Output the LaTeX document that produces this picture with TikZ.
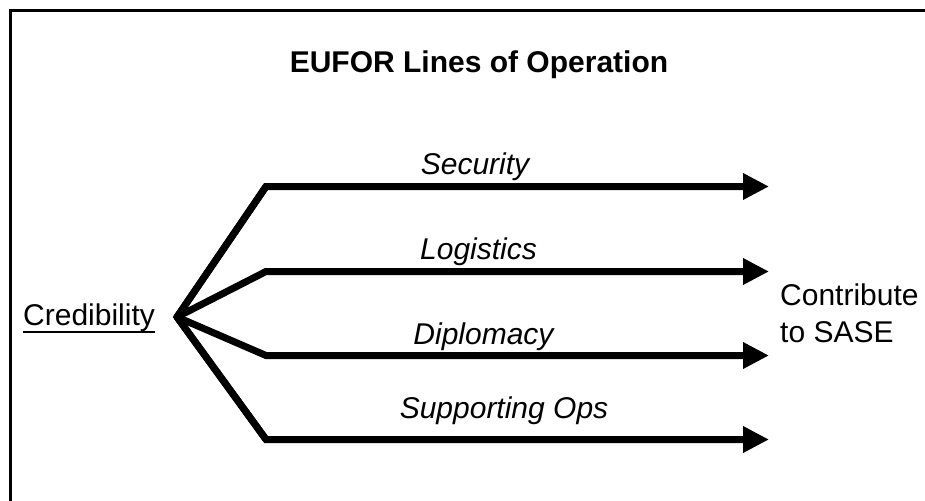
\documentclass[tikz,border=0pt]{standalone}
\usepackage{fontspec}
\setmainfont{Liberation Sans}
\usetikzlibrary{arrows.meta}
\tikzset{
  lbl/.style={font=\fontsize{30}{37}\selectfont\itshape, inner sep=0pt, anchor=base},
  plain/.style={font=\fontsize{30}{37}\selectfont, inner sep=0pt},
  lop/.style={line width=7pt, -{Triangle[length=26pt,width=25pt]}},
  fork/.style={line width=7pt},
  frame/.style={line width=3pt}
}
\begin{document}
\begin{tikzpicture}[x=1pt,y=-1pt]
\useasboundingbox (0,0) rectangle (925,500);
% frame (right and bottom sides lie outside the picture)
\coordinate (fbl) at (10,520);
\coordinate (ftl) at (10,11);
\coordinate (ftr) at (945,11);
\draw[frame] (fbl) -- (ftl) -- (ftr);

\node[font=\fontsize{30}{37}\selectfont\bfseries, inner sep=0pt, anchor=base] (title) at (479,73) {EUFOR Lines of Operation};

\coordinate (hub) at (177,317);
\coordinate (b1) at (266,186.5);
\coordinate (b2) at (266,271.5);
\coordinate (b3) at (266,355.5);
\coordinate (b4) at (266,439.5);
\coordinate (e1) at (769,186.5);
\coordinate (e2) at (769,271.5);
\coordinate (e3) at (769,355.5);
\coordinate (e4) at (769,439.5);

\draw[fork] (b1) -- (hub) -- (b4);
\draw[lop] (hub) -- (b1) -- (e1);
\draw[lop] (hub) -- (b2) -- (e2);
\draw[lop] (hub) -- (b3) -- (e3);
\draw[lop] (hub) -- (b4) -- (e4);

\node[lbl] (sec) at (475,174) {Security};
\node[lbl] (log) at (478.5,259) {Logistics};
\node[lbl] (dip) at (483.5,344) {Diplomacy};
\node[lbl] (sup) at (504,418) {Supporting Ops};

\node[plain, anchor=base west] (cred) at (23,325) {Credibility};
\draw[line width=2pt] ([yshift=-7pt]cred.base west) -- ([yshift=-7pt]cred.base east);

\node[plain, anchor=base west, align=left] (sase) at (780,342) {Contribute\\to SASE};
\end{tikzpicture}
\end{document}
